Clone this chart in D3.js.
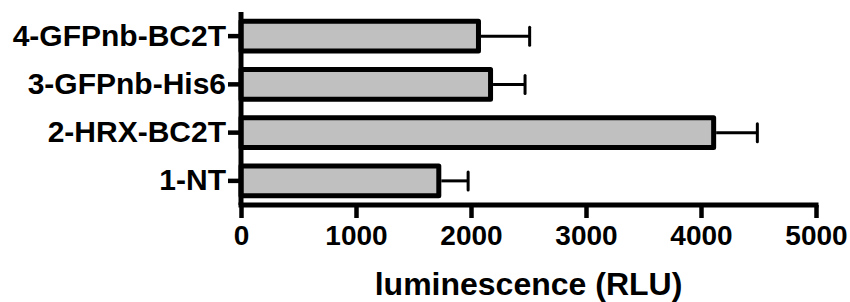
<!DOCTYPE html>
<html><head><meta charset="utf-8">
<script src="https://cdn.jsdelivr.net/npm/d3@7"></script>
<style>html,body{margin:0;padding:0;background:#fff;}svg{display:block;}</style>
</head><body>
<svg id="chart" width="850" height="302"></svg>
<script>
const categories = ["4-GFPnb-BC2T", "3-GFPnb-His6", "2-HRX-BC2T", "1-NT"];
const means = [2065, 2170, 4110, 1720];
const errors = [445, 300, 380, 255];
const xTicks = [0, 1000, 2000, 3000, 4000, 5000];
const xTitle = "luminescence (RLU)";

const data = categories.map((c, i) => ({c, m: means[i], e: errors[i]}));
const svg = d3.select("#chart");
const font = "'Liberation Sans', Arial, Helvetica, sans-serif";

const x = d3.scaleLinear().domain([0, 5000]).range([241, 816]);
const y = d3.scaleBand().domain(categories).range([12, 205]).paddingInner(0.38).paddingOuter(0.19);

// bars
svg.append("g").selectAll("rect").data(data).join("rect")
  .attr("x", x(0)).attr("y", d => y(d.c))
  .attr("width", d => x(d.m) - x(0)).attr("height", y.bandwidth())
  .attr("fill", "#c0c0c0").attr("stroke", "#000").attr("stroke-width", 5)
  .attr("stroke-linejoin", "round");

// error bars
const eg = svg.append("g").attr("stroke", "#000").attr("stroke-width", 3);
eg.selectAll("line.h").data(data).join("line").attr("class", "h")
  .attr("x1", d => x(d.m) + 2.5).attr("x2", d => x(d.m + d.e))
  .attr("y1", d => y(d.c) + y.bandwidth() / 2).attr("y2", d => y(d.c) + y.bandwidth() / 2);
eg.selectAll("line.c").data(data).join("line").attr("class", "c")
  .attr("x1", d => x(d.m + d.e)).attr("x2", d => x(d.m + d.e))
  .attr("y1", d => y(d.c) + y.bandwidth() / 2 - 9).attr("y2", d => y(d.c) + y.bandwidth() / 2 + 9)
  .attr("stroke-linecap", "round");

// x axis
const xAxis = svg.append("g").attr("transform", "translate(0,205)")
  .call(d3.axisBottom(x).tickValues(xTicks).tickFormat(d3.format("d")).tickSize(13).tickPadding(7));
xAxis.select(".domain").attr("d", `M${x(0)},0H${x(5000)}`).attr("stroke-width", 5).attr("stroke-linecap", "square");
xAxis.selectAll(".tick line").attr("stroke-width", 4.5);
xAxis.selectAll("text").attr("font-family", font).attr("font-weight", "bold").attr("font-size", 28).attr("fill", "#000");

// y axis
const yAxis = svg.append("g").attr("transform", `translate(${x(0)},0)`)
  .call(d3.axisLeft(y).tickSize(13).tickPadding(2));
yAxis.select(".domain").attr("d", `M0,12V205`).attr("stroke-width", 5);
yAxis.selectAll(".tick line").attr("stroke-width", 4.5);
yAxis.selectAll("text").attr("font-family", font).attr("font-weight", "bold").attr("font-size", 30).attr("fill", "#000");

svg.append("text").attr("x", (x(0) + x(5000)) / 2).attr("y", 295)
  .attr("text-anchor", "middle").attr("font-family", font).attr("font-weight", "bold").attr("font-size", 32)
  .text(xTitle);
</script>
</body></html>
